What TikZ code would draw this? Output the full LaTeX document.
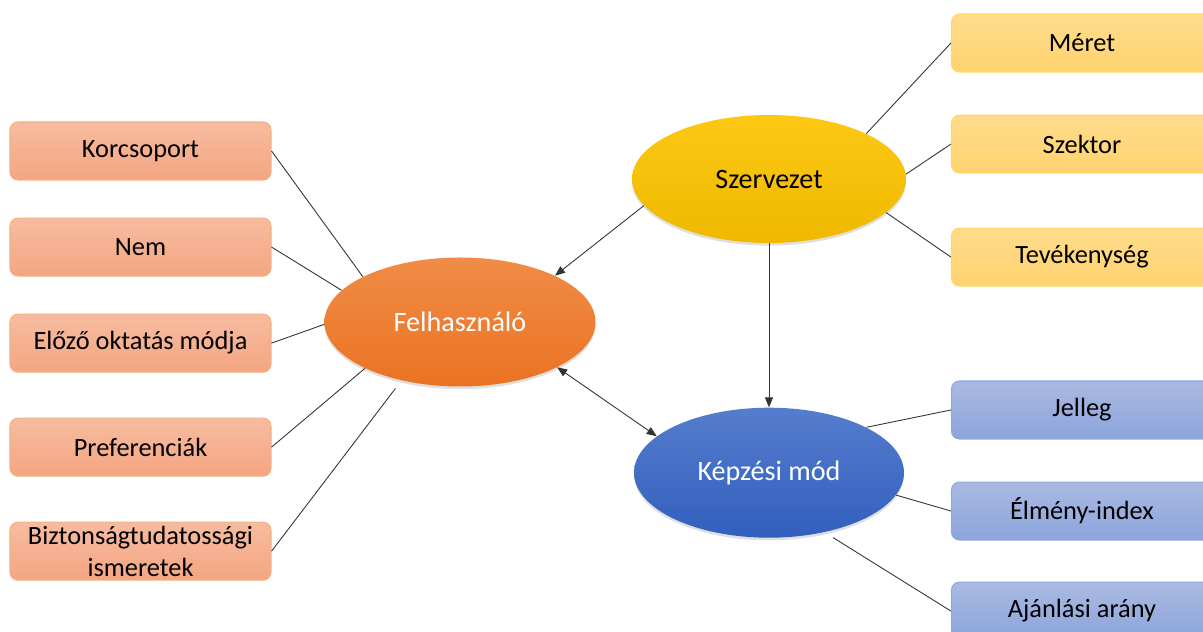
\documentclass[tikz,border=0pt]{standalone}
\usepackage{fontspec}
\setmainfont{Carlito}
\usetikzlibrary{positioning, arrows.meta, shapes.geometric, shadows}

\definecolor{oboxtop}{HTML}{F6BCA0}
\definecolor{oboxbot}{HTML}{F5A582}
\definecolor{oboxline}{HTML}{F4B183}
\definecolor{yboxtop}{HTML}{FFDC8C}
\definecolor{yboxbot}{HTML}{FFD26E}
\definecolor{yboxline}{HTML}{FFD966}
\definecolor{bboxtop}{HTML}{AAB9E1}
\definecolor{bboxbot}{HTML}{8CA5DC}
\definecolor{bboxline}{HTML}{8FAADC}
\definecolor{orangetop}{HTML}{F08C46}
\definecolor{orangebot}{HTML}{EB7323}
\definecolor{goldtop}{HTML}{FCC814}
\definecolor{goldbot}{HTML}{F0B900}
\definecolor{bluetop}{HTML}{557DCD}
\definecolor{bluebot}{HTML}{325FBE}

\begin{document}
\begin{tikzpicture}[
    box/.style={rectangle, draw, line width=0.6pt, rounded corners=4.5pt, minimum width=5.22cm, minimum height=1.16cm,
        inner xsep=2pt, inner ysep=0pt, align=center, font=\fontsize{15}{18}\selectfont},
    ubox/.style={box, draw=oboxline, top color=oboxtop, bottom color=oboxbot},
    sbox/.style={box, draw=yboxline, top color=yboxtop, bottom color=yboxbot},
    kbox/.style={box, draw=bboxline, top color=bboxtop, bottom color=bboxbot},
    blob/.style={ellipse, inner sep=0pt, font=\fontsize{16}{19}\selectfont,
        drop shadow={opacity=0.25, shadow xshift=0pt, shadow yshift=-1.5pt}},
    felhst/.style={blob, minimum width=5.42cm, minimum height=2.58cm, top color=orangetop, bottom color=orangebot, text=white},
    szervst/.style={blob, minimum width=5.48cm, minimum height=2.56cm, top color=goldtop, bottom color=goldbot, text=black},
    kepzst/.style={blob, minimum width=5.4cm, minimum height=2.6cm, top color=bluetop, bottom color=bluebot, text=white},
    link/.style={draw=black!80, line width=0.5pt},
    arrow/.style={link, -{Triangle[length=2mm, width=1.6mm]}},
    biarrow/.style={link, {Triangle[length=2mm, width=1.6mm]}-{Triangle[length=2mm, width=1.6mm]}},
]
\useasboundingbox (0,0) rectangle (24.06,12.64);

% Felhasznalo side
\node[ubox] (korc) at (2.81,9.62) {Korcsoport};
\node[ubox, below=0.74cm of korc] (nem) {Nem};
\node[ubox, below=0.74cm of nem] (elozo) {Előző oktatás módja};
\node[ubox, below=0.9cm of elozo] (pref) {Preferenciák};
\node[ubox, below=0.9cm of pref] (bizt) {Biztonságtudatossági\\ismeretek};

% Ellipses
\node[felhst] (felh) at (9.2,6.2) {Felhasználó};
\node[szervst] (szerv) at (15.38,9.06) {Szervezet};
\node[kepzst, below=3.28cm of szerv] (kepz) {Képzési mód};

% Szervezet side
\node[sbox] (meret) at (21.64,11.78) {Méret};
\node[sbox, below=0.84cm of meret] (szektor) {Szektor};
\node[sbox, below=1.08cm of szektor] (tev) {Tevékenység};

% Kepzesi mod side
\node[kbox] (jelleg) at (21.64,4.44) {Jelleg};
\node[kbox, below=0.84cm of jelleg] (elmeny) {Élmény-index};
\node[kbox, below=0.82cm of elmeny] (ajanl) {Ajánlási arány};

% Lines - left
\draw[link] (korc.east) -- (felh.155);
\draw[link] (nem.east) -- (felh.165);
\draw[link] (elozo.east) -- (felh.181);
\draw[link] (pref.east) -- (felh.206);
\draw[link, shorten >=0.2cm] (bizt.east) -- (felh.225);

% Lines - right
\draw[link] (meret.west) -- (szerv.25);
\draw[link] (szektor.west) -- (szerv.2);
\draw[link] (tev.west) -- (szerv.-16);
\draw[link] (jelleg.west) -- (kepz.25);
\draw[link] (elmeny.west) -- (kepz.-10);
\draw[link, shorten >=0.2cm] (ajanl.west) -- (kepz.-47);

% Arrows
\draw[arrow] (szerv.192) -- (felh.26);
\draw[arrow] (szerv.south) -- (kepz.north);
\draw[biarrow] (felh.-25) -- (kepz.162);

\end{tikzpicture}
\end{document}
